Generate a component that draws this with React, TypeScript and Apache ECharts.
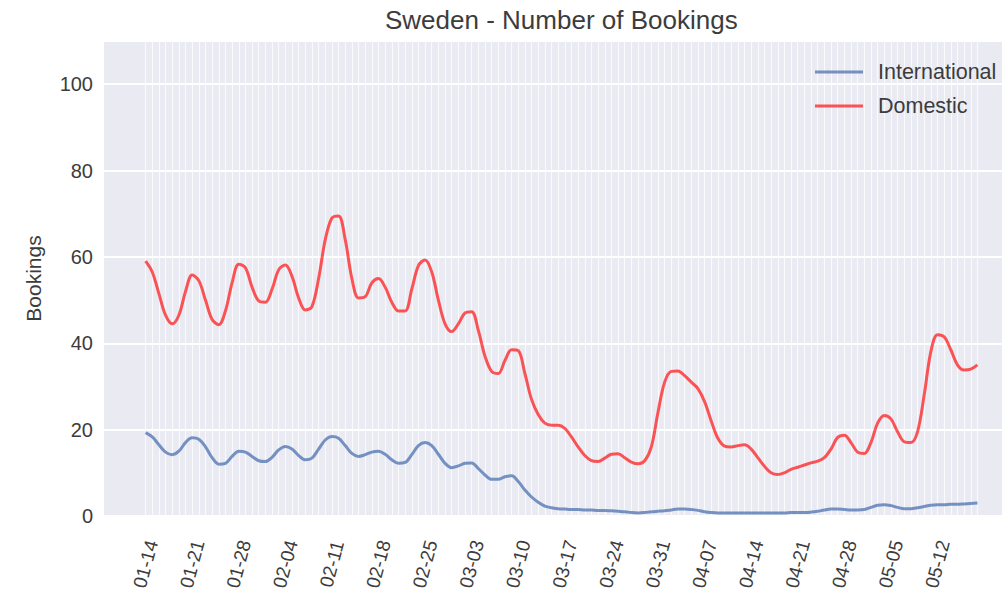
import React, { useEffect, useRef } from "react";
import * as echarts from "echarts";

const START_DATE = "2020-01-14";
const TICK_LABELS = [
  "01-14", "01-21", "01-28", "02-04", "02-11", "02-18", "02-25", "03-03", "03-10",
  "03-17", "03-24", "03-31", "04-07", "04-14", "04-21", "04-28", "05-05", "05-12",
];
const Y_TICKS = [0, 20, 40, 60, 80, 100];

const INTERNATIONAL = [
  19.3, 18.3, 16.5, 14.8, 14.2, 15, 17, 18.1, 17.8, 16, 13.5, 12, 12.2, 13.8, 15, 14.8,
  13.8, 12.8, 12.6, 13.6, 15.3, 16.1, 15.5, 14, 13, 13.4, 15.5, 17.6, 18.4, 18, 16.3, 14.5,
  13.8, 14.2, 14.8, 15, 14.3, 13, 12.2, 12.4, 14.2, 16.3, 17, 16.3, 14.3, 12.2, 11.2, 11.6,
  12.2, 12.3, 11, 9.5, 8.5, 8.5, 9.1, 9.3, 8, 6, 4.4, 3.2, 2.3, 1.9, 1.7, 1.6, 1.5, 1.5,
  1.4, 1.4, 1.3, 1.3, 1.2, 1.1, 1.0, 0.8, 0.7, 0.8, 1.0, 1.1, 1.2, 1.4, 1.6, 1.6, 1.5, 1.3,
  1.0, 0.8, 0.7, 0.7, 0.7, 0.7, 0.7, 0.7, 0.7, 0.7, 0.7, 0.7, 0.7, 0.8, 0.8, 0.8, 0.9, 1.1,
  1.4, 1.6, 1.6, 1.5, 1.4, 1.4, 1.5, 2.0, 2.5, 2.6, 2.4, 2.0, 1.7, 1.7, 1.9, 2.2, 2.5, 2.6,
  2.6, 2.7, 2.7, 2.8, 2.9, 3.0,
];

const DOMESTIC = [
  59, 56.5, 51.5, 46.5, 44.5, 46.5, 52, 55.8, 54.5, 50, 45.5, 44.3, 47.5, 54, 58.3, 57.5,
  53, 49.8, 49.5, 52.5, 57, 58.1, 55.5, 50.5, 47.7, 48.5, 55, 64, 69, 69.5, 64, 55,
  50.5, 50.8, 54, 55, 53, 49.5, 47.5, 47.5, 52.5, 58, 59.3, 56.5, 50, 44.5, 42.7, 44.5,
  47, 47.3, 43, 37, 33.5, 33, 36, 38.5, 38.3, 33, 27, 23.5, 21.5, 21, 21, 20.3, 18.3, 16,
  14, 12.8, 12.6, 13.4, 14.3, 14.4, 13.5, 12.5, 12.1, 12.8, 16, 24, 31, 33.5, 33.6, 32.5,
  31, 29.5, 26.5, 22, 18, 16.2, 16, 16.3, 16.5, 15.5, 13.5, 11.5, 10, 9.6, 10, 10.8, 11.3,
  11.8, 12.3, 12.7, 13.5, 15.5, 18.2, 18.7, 17, 14.8, 14.5, 17, 21.5, 23.3, 22.5, 19.5,
  17.2, 17, 19.5, 28, 38, 42, 41.5, 38.5, 35, 33.8, 34, 35,
];

const FONT = "'Liberation Sans', Arial, sans-serif";
const TEXT = "#3c3c3c";

function dayLabel(i: number): string {
  const d = new Date(START_DATE + "T00:00:00Z");
  d.setUTCDate(d.getUTCDate() + i);
  const mm = String(d.getUTCMonth() + 1).padStart(2, "0");
  const dd = String(d.getUTCDate()).padStart(2, "0");
  return `${mm}-${dd}`;
}

export default function App() {
  const ref = useRef<HTMLDivElement>(null);

  useEffect(() => {
    if (!ref.current) return;
    const chart = echarts.init(ref.current, undefined, { renderer: "svg" });
    const n = DOMESTIC.length;
    const pad = (n - 1) * 0.05;
    const dayIdx = DOMESTIC.map((_, i) => i);
    const tickIdx = TICK_LABELS.map((_, i) => i * 7);

    chart.setOption({
      animation: false,
      backgroundColor: "#ffffff",
      title: {
        text: "Sweden - Number of Bookings",
        left: 385,
        top: 7,
        padding: 0,
        textStyle: { fontFamily: FONT, fontSize: 26, fontWeight: "normal", color: TEXT },
      },
      legend: {
        orient: "vertical",
        left: 815,
        top: 61,
        icon: "rect",
        itemWidth: 48,
        itemHeight: 3,
        itemGap: 12,
        padding: 0,
        textStyle: { fontFamily: FONT, fontSize: 21.5, color: TEXT, padding: [0, 0, 0, 10], lineHeight: 21 },
        data: ["International", "Domestic"],
      },
      grid: {
        left: 104,
        top: 41,
        width: 915,
        height: 475,
        show: true,
        backgroundColor: "#EAEAF2",
        borderWidth: 0,
      },
      xAxis: {
        type: "value",
        min: -pad,
        max: n - 1 + pad,
        axisLine: { show: false },
        axisTick: { show: false, customValues: dayIdx },
        splitLine: { show: true, lineStyle: { color: "rgba(255,255,255,0.75)", width: 1.2 } },
        axisLabel: {
          customValues: tickIdx,
          formatter: (v: number) => dayLabel(Math.round(v)),
          rotate: 75,
          align: "center",
          verticalAlign: "middle",
          margin: 48,
          fontFamily: FONT,
          fontSize: 19,
          color: TEXT,
        },
      },
      yAxis: {
        type: "value",
        min: 0,
        max: 110,
        interval: 20,
        name: "Bookings",
        nameLocation: "middle",
        nameRotate: 90,
        nameGap: 60,
        nameTextStyle: { fontFamily: FONT, fontSize: 21, color: TEXT },
        axisLine: { show: false },
        axisTick: { show: false },
        splitLine: { show: true, lineStyle: { color: "#ffffff", width: 2 } },
        axisLabel: {
          showMaxLabel: false,
          formatter: (v: number) => (Y_TICKS.includes(v) ? String(v) : ""),
          margin: 11,
          fontFamily: FONT,
          fontSize: 20,
          color: TEXT,
        },
      },
      series: [
        {
          name: "International",
          type: "line",
          data: INTERNATIONAL.map((v, i) => [i, v]),
          smooth: 0.35,
          symbol: "none",
          lineStyle: { width: 3, color: "rgba(76,114,176,0.75)" },
          itemStyle: { color: "rgba(76,114,176,0.75)" },
        },
        {
          name: "Domestic",
          type: "line",
          data: DOMESTIC.map((v, i) => [i, v]),
          smooth: 0.35,
          symbol: "none",
          lineStyle: { width: 3, color: "rgba(255,0,0,0.65)" },
          itemStyle: { color: "rgba(255,0,0,0.65)" },
        },
      ],
    });
    return () => chart.dispose();
  }, []);

  return (
    <div style={{ position: "fixed", left: 0, top: 0, width: 1002, height: 595, overflow: "hidden" }}>
      <div ref={ref} style={{ width: 1040, height: 595 }} />
    </div>
  );
}
